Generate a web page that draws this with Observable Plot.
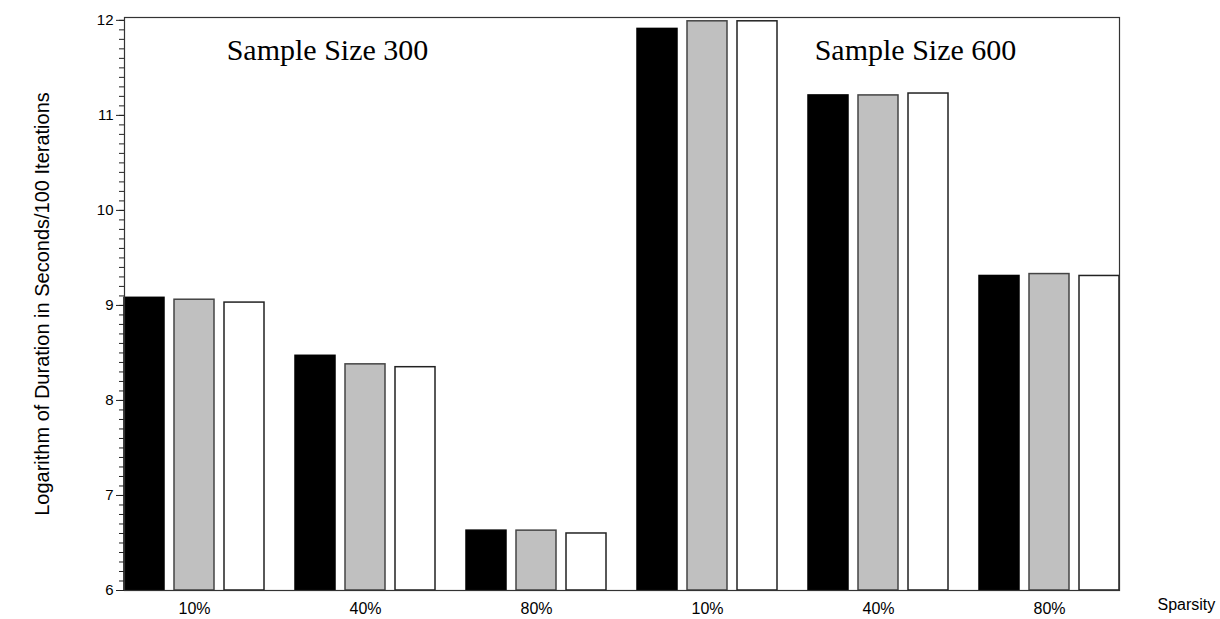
<!DOCTYPE html>
<html><head><meta charset="utf-8">
<script src="https://cdn.jsdelivr.net/npm/d3@7"></script>
<script src="https://cdn.jsdelivr.net/npm/@observablehq/plot@0.6"></script>
<style>
body{margin:0;background:#fff}
#chart{position:relative;width:1220px;height:619px}
</style>
</head><body><div id="chart"></div>
<script>
// ---- data ----
const groupSize = ["300","300","300","600","600","600"];
const groupSparsity = ["10%","40%","80%","10%","40%","80%"];
const seriesNames = ["black","gray","white"];
const seriesBlack = [9.08, 8.47, 6.63, 11.91, 11.21, 9.31];
const seriesGray  = [9.06, 8.38, 6.63, 11.99, 11.21, 9.33];
const seriesWhite = [9.03, 8.35, 6.60, 11.99, 11.23, 9.31];
const yTicks = [6, 7, 8, 9, 10, 11, 12];
const annotations = ["Sample Size 300", "Sample Size 600"];
const yLabel = "Logarithm of Duration in Seconds/100 Iterations";
const xLabel = "Sparsity";

// ---- build table ----
const groups = groupSize.map((s, i) => s + "|" + groupSparsity[i]);
const seriesValues = [seriesBlack, seriesGray, seriesWhite];
const rows = [];
groups.forEach((g, i) => seriesNames.forEach((s, j) => rows.push({group: g, series: s, value: seriesValues[j][i]})));
const fills = {black: "#000000", gray: "#c0c0c0", white: "#ffffff"};
const strokes = {black: "#000000", gray: "#444444", white: "#222222"};
const minorTicks = d3.range(yTicks[0] * 10, yTicks[yTicks.length - 1] * 10 + 1).map(d => d / 10);
const base = yTicks[0];
const annoFont = "'Liberation Serif', 'Times New Roman', serif";

const plot = Plot.plot({
  width: 1220, height: 619,
  marginLeft: 120, marginRight: 97, marginTop: 17, marginBottom: 29,
  style: {fontFamily: "'Liberation Sans', Arial, sans-serif", fontSize: "14px", background: "white", color: "black", overflow: "visible"},
  fx: {domain: groups, paddingInner: 0.183, paddingOuter: 0.019, axis: null},
  x: {domain: seriesNames, paddingInner: 0.2, paddingOuter: 0, axis: null},
  y: {domain: [base, 12.03], axis: null},
  marks: [
    ...seriesNames.map(s => Plot.barY(rows.filter(r => r.series === s), {
      fx: "group", x: "series", y1: () => base, y2: "value",
      fill: fills[s], stroke: strokes[s], strokeWidth: 1.5
    })),
    Plot.axisY({ticks: minorTicks, tickSize: 5, tickFormat: () => "", label: null, stroke: "#222"}),
    Plot.axisY({ticks: yTicks, tickSize: 8, tickPadding: 3, fontSize: 15, tickFormat: d3.format("d"), label: yLabel, labelAnchor: "center", labelOffset: 90, labelArrow: false, stroke: "#222"}),
    Plot.axisFx({anchor: "bottom", tickSize: 0, tickPadding: 12, tickFormat: g => g.split("|")[1], label: null, fontSize: 16}),
    Plot.text([{label: annotations[0], group: groups[1]}], {
      fx: "group", frameAnchor: "top", dy: 21, dx: -38, text: "label",
      fontFamily: annoFont, fontSize: 30
    }),
    Plot.text([{label: annotations[1], group: groups[4]}], {
      fx: "group", frameAnchor: "top", dy: 21, dx: 37, text: "label",
      fontFamily: annoFont, fontSize: 30
    }),
    Plot.text([xLabel], {facet: "super", frameAnchor: "bottom-right", textAnchor: "start", dx: 38, dy: 19, fontSize: 16}),
    Plot.frame({facet: "super", stroke: "#333", strokeWidth: 1.2})
  ]
});
document.getElementById("chart").appendChild(plot);
plot.querySelectorAll("text").forEach(t => { if (t.textContent === yLabel) { t.style.fontSize = "20px"; } });
</script>
</body></html>
